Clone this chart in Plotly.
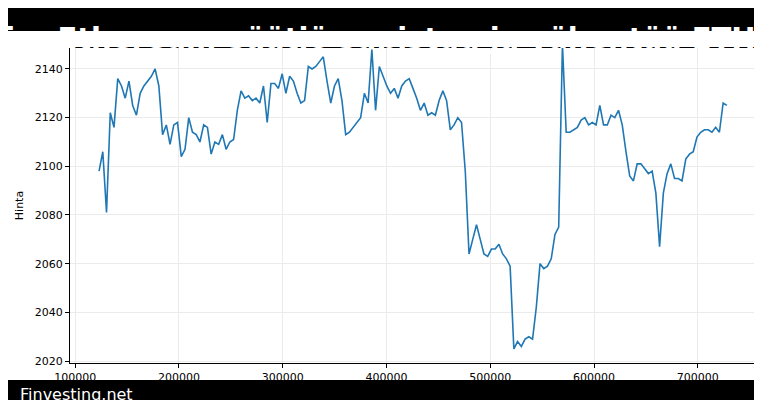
import plotly.graph_objects as go

title_text = "Vitalik Buterin: Ethereum-säätiö supistuu ja vähentää ETH-myyntiä"
footer_text = "Finvesting.net"
y_label = "Hinta"
x_start, x_end = 123000, 728000
prices = [2098, 2106, 2081, 2122, 2116, 2136, 2133, 2128, 2135, 2125, 2121, 2130, 2133, 2135, 2137, 2140,
          2133, 2113, 2117, 2109, 2117, 2118, 2104, 2107, 2120, 2114, 2113, 2110, 2117, 2116, 2105, 2110,
          2109, 2113, 2107, 2110, 2111, 2123, 2131, 2128, 2129, 2127, 2128, 2126, 2133, 2118, 2134, 2134,
          2132, 2138, 2130, 2137, 2135, 2130, 2126, 2127, 2141, 2140, 2141, 2143, 2145, 2135, 2126, 2133,
          2136, 2127, 2113, 2114, 2116, 2118, 2120, 2130, 2126, 2148, 2123, 2141, 2137, 2133, 2130, 2132,
          2128, 2133, 2135, 2136, 2132, 2128, 2123, 2126, 2121, 2122, 2121, 2127, 2131, 2127, 2115, 2117,
          2120, 2118, 2098, 2064, 2070, 2076, 2070, 2064, 2063, 2066, 2066, 2068, 2064, 2062, 2059, 2025,
          2028, 2026, 2029, 2030, 2029, 2042, 2060, 2058, 2059, 2062, 2072, 2075, 2150, 2114, 2114, 2115,
          2116, 2119, 2120, 2117, 2118, 2117, 2125, 2117, 2117, 2121, 2120, 2123, 2117, 2106, 2096, 2094,
          2101, 2101, 2099, 2097, 2098, 2089, 2067, 2089, 2097, 2101, 2095, 2095, 2094, 2103, 2105, 2106,
          2112, 2114, 2115, 2115, 2114, 2116, 2114, 2126, 2125]
n = len(prices)
step = (x_end - x_start) / (n - 1)
xs = [x_start + i * step for i in range(n)]

fig = go.Figure(go.Scatter(x=xs, y=prices, mode="lines", line=dict(color="#1f77b4", width=1.6)))
axis = dict(showline=True, linecolor="black", mirror=True, ticks="outside", ticklen=4,
            tickcolor="black", showgrid=True, gridcolor="#ebebeb", zeroline=False, automargin=False,
            tickfont=dict(family="DejaVu Sans", size=11, color="black"))
fig.update_xaxes(range=[95000, 758000], tickvals=[100000, 200000, 300000, 400000, 500000, 600000, 700000],
                 tickformat="d", **axis)
fig.update_yaxes(range=[2019.2, 2148.6], dtick=20,
                 title=dict(text=y_label, font=dict(family="DejaVu Sans", size=11, color="black"), standoff=8), **axis)
fig.update_layout(width=762, height=400, margin=dict(l=62, r=12, t=40, b=45, autoexpand=False),
                  plot_bgcolor="white", paper_bgcolor="white", showlegend=False,
                  shapes=[dict(type="rect", xref="paper", yref="paper", x0=-0.2, x1=1.2, y0=1.0 + 17/315, y1=1.3,
                               fillcolor="black", line_width=0, layer="above"),
                          dict(type="rect", xref="paper", yref="paper", x0=-0.2, x1=1.2, y0=-0.3, y1=-17/315,
                               fillcolor="black", line_width=0, layer="above")],
                  annotations=[dict(text="<b>" + title_text + "</b>", xref="paper", yref="paper", x=1.21, y=1 + 10/315,
                                    xanchor="right", yanchor="middle", showarrow=False,
                                    font=dict(family="DejaVu Sans", size=29, color="white")),
                               dict(text=footer_text, xref="paper", yref="paper", x=-52/688, y=-31/315,
                                    xanchor="left", yanchor="middle", showarrow=False,
                                    font=dict(family="DejaVu Sans", size=16, color="white"))])
fig.write_html("out.html")
